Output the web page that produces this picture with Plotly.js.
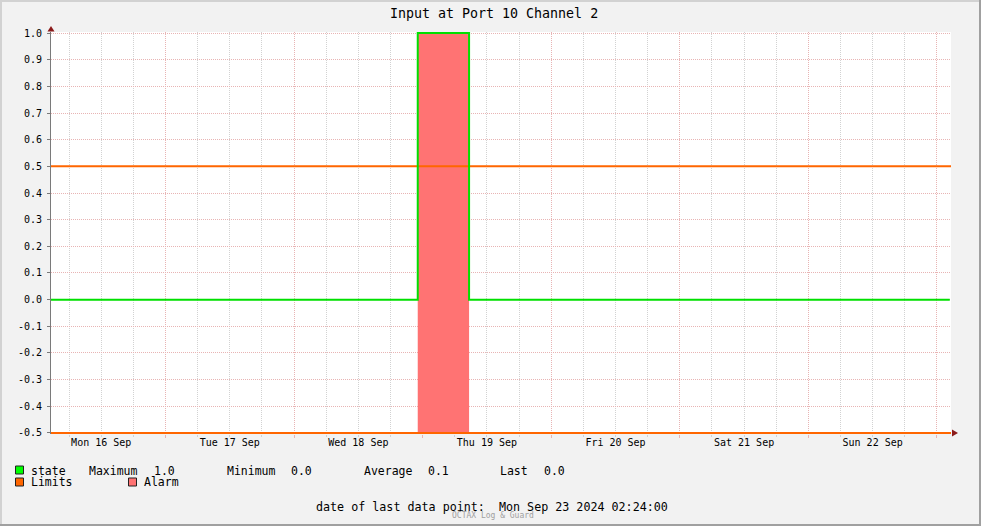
<!DOCTYPE html>
<html>
<head>
<meta charset="utf-8">
<script src="https://cdn.plot.ly/plotly-3.0.1.min.js"></script>
<style>html,body{margin:0;padding:0;background:#f2f2f2;}#chart{width:981px;height:526px;}</style>
</head>
<body>
<div id="chart"></div>
<script>
// ---- data ----
var rangeStart = '2024-09-16 02:37:30';
var rangeEnd = '2024-09-23 02:37:30';
var stateTimes = ['2024-09-16 02:37:30', '2024-09-18 23:05', '2024-09-19 08:40', '2024-09-23 02:24'];
var stateValues = [0, 1, 0, 0];
var alarmTimes = ['2024-09-18 23:05', '2024-09-19 08:40'];
var alarmBottom = [-0.5, -0.5];
var alarmTop = [1.0, 1.0];
var limitTimes = [rangeStart, rangeEnd];
var limitUpper = [0.5, 0.5];
var limitLower = [-0.5, -0.5];
var yTickVals = [-0.5, -0.4, -0.3, -0.2, -0.1, 0.0, 0.1, 0.2, 0.3, 0.4, 0.5, 0.6, 0.7, 0.8, 0.9, 1.0];
var yTickText = ['-0.5', '-0.4', '-0.3', '-0.2', '-0.1', '0.0', '0.1', '0.2', '0.3', '0.4', '0.5', '0.6', '0.7', '0.8', '0.9', '1.0'];
var titleText = 'Input at Port 10 Channel 2';
var stats = {label: 'state', maximum: '1.0', minimum: '0.0', average: '0.1', last: '0.0'};
var footerText = 'date of last data point:  Mon Sep 23 2024 02:24:00';
var creditText = 'OCTAX Log & Guard';

// ---- layout helpers (pixel -> paper) ----
var W = 981, H = 526, L = 51, R = 30, T = 32, B = 92;
var PW = W - L - R, PH = H - T - B;
function px(x) { return (x - L) / PW; }
function py(y) { return (H - B - y) / PH; }

var GREEN = '#00e000', ORANGE = '#ff6600', ALARM = '#ff7373';
var MONO = 'DejaVu Sans Mono, monospace';
var MGRID = '#e8b4b4', GRID = '#d2d2d2';

var traces = [
  {x: alarmTimes, y: alarmBottom, mode: 'lines', line: {width: 0, shape: 'hv'}, hoverinfo: 'skip', showlegend: false},
  {x: alarmTimes, y: alarmTop, mode: 'lines', line: {width: 0, shape: 'hv'}, fill: 'tonexty', fillcolor: ALARM, hoverinfo: 'skip', showlegend: false},
  {x: limitTimes, y: limitUpper, mode: 'lines', line: {color: ORANGE, width: 2}, showlegend: false},
  {x: limitTimes, y: limitLower, mode: 'lines', line: {color: ORANGE, width: 2}, showlegend: false},
  {x: stateTimes, y: stateValues, mode: 'lines', line: {color: GREEN, width: 2, shape: 'hv'}, showlegend: false}
];

var ann = [];
function txt(x, y, s, opts) {
  opts = opts || {};
  ann.push({xref: 'paper', yref: 'paper', x: px(x), y: py(y), text: s, showarrow: false,
    xanchor: opts.anchor || 'left', yanchor: 'middle',
    font: {family: MONO, size: opts.size || 11.5, color: opts.color || '#000'}});
}
txt(29, 470.5, stats.label);
txt(87, 470.5, 'Maximum');
txt(152, 470.5, stats.maximum);
txt(225, 470.5, 'Minimum');
txt(289, 470.5, stats.minimum);
txt(362, 470.5, 'Average');
txt(426, 470.5, stats.average);
txt(498, 470.5, 'Last');
txt(542, 470.5, stats.last);
txt(29, 482, 'Limits');
txt(142, 482, 'Alarm');
txt(491.5, 506.5, footerText, {anchor: 'center', size: 11.7});
txt(492.5, 515.5, creditText, {anchor: 'center', size: 8, color: '#a0a0a0'});
txt(494, 13, titleText, {anchor: 'center', size: 13.3});

function rect(x0, y0, x1, y1, fill, lineColor) {
  return {type: 'rect', xref: 'paper', yref: 'paper', x0: px(x0), x1: px(x1), y0: py(y0), y1: py(y1),
    fillcolor: fill, line: {color: lineColor || fill, width: lineColor ? 1 : 0}, layer: 'above'};
}
function path(pts, fill) {
  var d = pts.map(function (p, i) { return (i ? 'L' : 'M') + px(p[0]) + ',' + py(p[1]); }).join(' ') + ' Z';
  return {type: 'path', xref: 'paper', yref: 'paper', path: d, fillcolor: fill, line: {width: 0}, layer: 'above'};
}
var shapes = [
  // frame
  rect(0, 0, 981, 2, '#d2d2d2'),
  rect(0, 0, 2, 526, '#d2d2d2'),
  rect(0, 524, 981, 526, '#a0a0a0'),
  rect(979, 0, 981, 526, '#a0a0a0'),
  // legend squares
  rect(15.5, 466, 23.5, 474, '#00ff00', '#222'),
  rect(15.5, 478, 23.5, 486, ORANGE, '#222'),
  rect(128.5, 478, 136.5, 486, ALARM, '#222'),
  // axis arrows
  path([[51, 26], [47.5, 31.5], [54.5, 31.5]], '#8b1a1a'),
  path([[958, 433], [952, 429.5], [952, 436.5]], '#8b1a1a')
];

var layout = {
  width: W, height: H,
  margin: {l: L, r: R, t: T, b: B, pad: 0},
  paper_bgcolor: '#f2f2f2', plot_bgcolor: '#ffffff',
  showlegend: false,
  xaxis: {
    type: 'date', range: [rangeStart, rangeEnd],
    tick0: '2024-09-16', dtick: 86400000, tickformat: '%a %d %b',
    ticklabelmode: 'period',
    showgrid: true, gridcolor: MGRID, griddash: '1px,1px', gridwidth: 1,
    minor: {dtick: 6 * 3600000, tick0: '2024-09-16', showgrid: true, gridcolor: GRID, griddash: '1px,1px', gridwidth: 1,
            ticks: 'outside', ticklen: 2, tickcolor: GRID},
    ticks: 'outside', ticklen: 3, tickcolor: MGRID, ticklabelstandoff: -4,
    showline: false, zeroline: false,
    tickfont: {family: MONO, size: 10, color: '#000'}
  },
  yaxis: {
    range: [-0.504, 1.004],
    tickmode: 'array', tickvals: yTickVals, ticktext: yTickText,
    showgrid: true, gridcolor: MGRID, griddash: '1px,1px', gridwidth: 1,
    zeroline: false, showline: true, linecolor: '#7a7a7a', linewidth: 1,
    ticks: 'outside', ticklen: 3, tickcolor: '#7a7a7a', ticklabelstandoff: 3,
    tickfont: {family: MONO, size: 10, color: '#000'}
  },
  annotations: ann,
  shapes: shapes
};

Plotly.newPlot('chart', traces, layout, {displayModeBar: false, staticPlot: true});
</script>
</body>
</html>
